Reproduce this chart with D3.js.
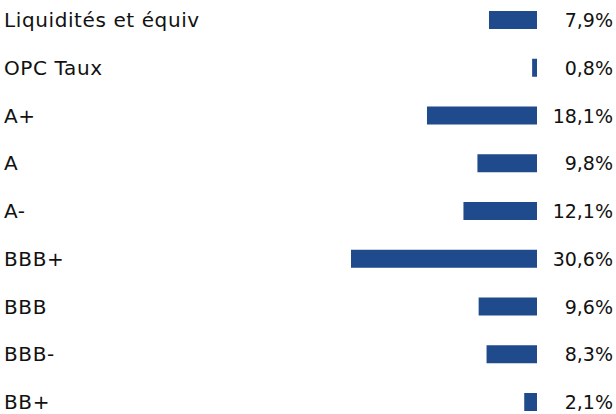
<!DOCTYPE html>
<html>
<head>
<meta charset="utf-8">
<script src="https://cdn.jsdelivr.net/npm/d3@7"></script>
<style>
  body { margin: 0; background: #fff; }
  text { font-family: "DejaVu Sans", sans-serif; fill: #111; }
</style>
</head>
<body>
<div class="chart"></div>
<script>
const width = 616;
const height = 414;

// data
const categories = ["Liquidités et équiv", "OPC Taux", "A+", "A", "A-", "BBB+", "BBB", "BBB-", "BB+"];
const values = [7.9, 0.8, 18.1, 9.8, 12.1, 30.6, 9.6, 8.3, 2.1];
const valueLabels = ["7,9%", "0,8%", "18,1%", "9,8%", "12,1%", "30,6%", "9,6%", "8,3%", "2,1%"];

const data = categories.map((c, i) => ({cat: c, value: values[i], label: valueLabels[i]}));

const svg = d3.select(".chart").append("svg")
    .attr("width", width)
    .attr("height", height);

// one row per category
const yScale = d3.scalePoint()
    .domain(categories)
    .range([20, 402]);

// bars grow to the left from x = 537
const xScale = d3.scaleLinear()
    .domain([0, d3.max(values)])
    .range([537, 351]);

const barH = 18;

svg.selectAll(".bar")
    .data(data)
    .join("rect")
    .attr("class", "bar")
    .attr("x", d => xScale(d.value))
    .attr("y", d => yScale(d.cat) - barH / 2)
    .attr("width", d => xScale(0) - xScale(d.value))
    .attr("height", barH)
    .attr("fill", "#1f4a8c");

svg.selectAll(".cat")
    .data(data)
    .join("text")
    .attr("class", "cat")
    .attr("x", 4)
    .attr("y", d => yScale(d.cat))
    .attr("dominant-baseline", "central")
    .attr("font-size", 20)
    .attr("letter-spacing", 0.6)
    .text(d => d.cat);

svg.selectAll(".val")
    .data(data)
    .join("text")
    .attr("class", "val")
    .attr("x", 613)
    .attr("y", d => yScale(d.cat))
    .attr("text-anchor", "end")
    .attr("dominant-baseline", "central")
    .attr("font-size", 19)
    .text(d => d.label);
</script>
</body>
</html>
